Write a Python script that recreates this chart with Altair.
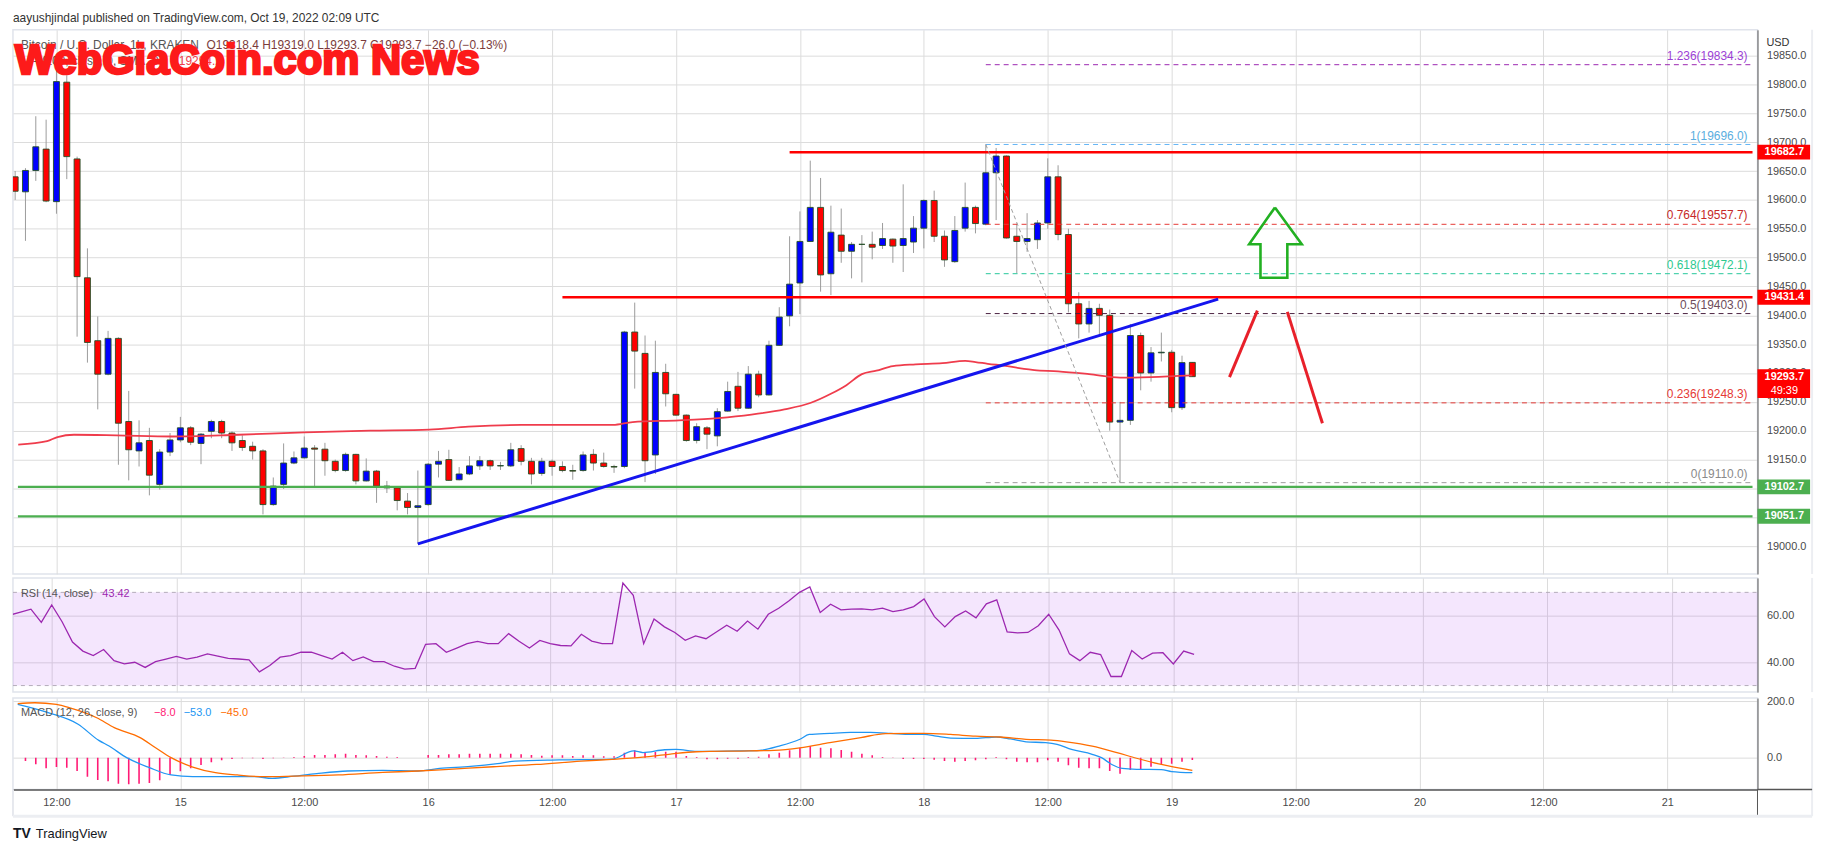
import json
import altair as alt
import pandas as pd

FONT = "Liberation Sans"
GRID = "#dcdcdc"
AXC = "#4a4a4a"

# ---------------- data (hour 0 = 14 Oct 12:00 UTC) ----------------
hours = list(range(-4, 111))
opens = [19640, 19614, 19651, 19688, 19597, 19804, 19671, 19465, 19356, 19298,
         19360, 19216, 19165, 19183, 19107, 19163, 19184, 19205, 19178, 19199,
         19216, 19196, 19183, 19173, 19165, 19072, 19107, 19144, 19153, 19170,
         19168, 19147, 19131, 19159, 19113, 19130, 19104, 19101, 19078, 19067,
         19072, 19142, 19150, 19115, 19125, 19139, 19148, 19139, 19139, 19169,
         19147, 19126, 19147, 19138, 19131, 19131, 19159, 19144, 19138, 19138,
         19371, 19334, 19158, 19301, 19263, 19227, 19183, 19205, 19191, 19234,
         19277, 19239, 19298, 19262, 19348, 19399, 19456, 19528, 19587, 19472,
         19539, 19511, 19523, 19523, 19521, 19532, 19521, 19527, 19551, 19599,
         19537, 19493, 19551, 19587, 19558, 19647, 19676, 19537, 19528, 19531,
         19560, 19640, 19540, 19420, 19385, 19412, 19400, 19215, 19218, 19365,
         19300, 19335, 19336, 19240, 19318.4]
highs = [19650, 19655, 19745, 19739, 19850, 19816, 19675, 19516, 19398, 19373,
         19362, 19269, 19218, 19205, 19168, 19196, 19224, 19208, 19196, 19219,
         19219, 19199, 19192, 19181, 19168, 19119, 19178, 19164, 19190, 19175,
         19179, 19150, 19162, 19160, 19152, 19132, 19113, 19102, 19092, 19131,
         19144, 19165, 19167, 19137, 19156, 19156, 19150, 19146, 19179, 19175,
         19153, 19153, 19150, 19147, 19141, 19164, 19168, 19162, 19141, 19373,
         19422, 19365, 19356, 19316, 19264, 19228, 19213, 19208, 19239, 19285,
         19302, 19312, 19304, 19356, 19414, 19537, 19580, 19668, 19638, 19590,
         19585, 19527, 19539, 19545, 19560, 19533, 19627, 19572, 19601, 19616,
         19547, 19572, 19630, 19590, 19696, 19690, 19677, 19559, 19577, 19565,
         19672, 19660, 19550, 19440, 19425, 19420, 19410, 19250, 19385, 19370,
         19345, 19370, 19340, 19330, 19319.0]
lows = [19600, 19529, 19633, 19596, 19576, 19636, 19363, 19318, 19237, 19296,
        19141, 19114, 19138, 19088, 19098, 19156, 19180, 19175, 19142, 19187,
        19187, 19165, 19165, 19150, 19055, 19070, 19099, 19142, 19152, 19101,
        19122, 19128, 19129, 19107, 19112, 19075, 19092, 19062, 19055, 19004,
        19070, 19119, 19113, 19114, 19123, 19132, 19132, 19132, 19137, 19140,
        19107, 19122, 19122, 19128, 19115, 19129, 19131, 19136, 19127, 19135,
        19273, 19111, 19125, 19242, 19226, 19181, 19178, 19168, 19173, 19233,
        19234, 19238, 19258, 19261, 19347, 19381, 19402, 19527, 19441, 19435,
        19491, 19464, 19457, 19497, 19515, 19491, 19475, 19508, 19516, 19527,
        19484, 19491, 19545, 19542, 19556, 19565, 19533, 19473, 19510, 19515,
        19550, 19530, 19405, 19360, 19370, 19365, 19200, 19110, 19210, 19270,
        19285, 19320, 19232, 19236, 19293.7]
closes = [19615, 19651, 19692, 19598, 19805, 19675, 19467, 19353, 19298, 19360,
          19213, 19167, 19179, 19123, 19163, 19184, 19205, 19180, 19194, 19216,
          19196, 19179, 19171, 19165, 19072, 19104, 19144, 19153, 19170, 19168,
          19148, 19131, 19159, 19113, 19130, 19104, 19101, 19079, 19067, 19070,
          19142, 19147, 19114, 19125, 19139, 19148, 19139, 19139.5, 19167, 19147,
          19125, 19147, 19138, 19131, 19130, 19158, 19144, 19138, 19137, 19371,
          19338, 19148, 19301, 19264, 19227, 19183, 19207, 19194, 19233, 19268,
          19239, 19298, 19262, 19348, 19397, 19454, 19528, 19587, 19470, 19544,
          19511, 19523, 19523, 19518, 19533, 19520, 19533, 19551, 19599, 19537,
          19496, 19547, 19587, 19559, 19647, 19676, 19534, 19528, 19533, 19560,
          19640, 19540, 19420, 19385, 19412, 19400, 19215, 19218, 19365, 19300,
          19335, 19336, 19240, 19318, 19293.7]

ma_h = [-3.7, -0.9, 0.1, 1.7, 5.8, 11.2, 17.6, 24.0, 30.4, 36.1, 39.9, 45.0, 53.9, 55.8, 60.3,
        64.1, 67.3, 70.5, 73.0, 75.0, 76.5, 78.0, 79.4, 81.0, 83.2, 85.8, 88.0, 89.0, 90.2,
        92.1, 93.7, 94.7, 97.0, 100.0, 103.0, 106.0, 110.0]
ma_v = [19176, 19182, 19189, 19193, 19192, 19190, 19193, 19197, 19200, 19202, 19207, 19210,
        19210, 19215, 19218, 19222, 19228, 19237, 19248, 19264, 19279, 19298, 19304, 19312,
        19315, 19317, 19321, 19319, 19316, 19312, 19307, 19305, 19303, 19298, 19292, 19293, 19296]

rsi = [60.3, 61.5, 62.8, 57.1, 64.6, 57.4, 48.7, 44.8, 42.9, 45.5,
       40.7, 39.3, 40.0, 37.8, 40.3, 41.4, 42.5, 41.4, 42.2, 43.6,
       42.6, 41.7, 41.4, 41.0, 35.9, 38.6, 42.2, 42.9, 44.3, 44.3,
       42.9, 41.4, 44.3, 40.7, 42.3, 40.3, 40.3, 38.3, 37.1, 37.4,
       47.7, 48.0, 44.3, 46.1, 48.0, 49.0, 48.0, 48.0, 52.3, 49.0,
       46.1, 49.4, 48.0, 47.2, 47.0, 52.0, 49.1, 48.0, 48.0, 74.0,
       68.7, 48.0, 58.6, 55.2, 52.8, 49.4, 51.3, 50.1, 53.0, 55.9,
       53.3, 57.7, 54.2, 60.6, 63.2, 66.4, 70.0, 72.3, 61.4, 64.9,
       62.5, 62.8, 62.9, 62.5, 63.2, 61.7, 62.5, 63.9, 67.2, 59.6,
       55.2, 59.6, 62.0, 59.1, 65.1, 66.8, 53.0, 52.6, 52.8, 55.7,
       60.6, 53.8, 43.6, 40.7, 44.3, 43.3, 33.9, 33.9, 45.0, 41.4,
       43.9, 44.1, 39.3, 44.8, 43.42]

hist_hours = list(range(-3, 111))
hist = [-11.8, -23.5, -37.6, -32.9, -35.3, -47.0, -67.0, -78.8, -83.5, -91.7,
        -94.1, -91.7, -89.4, -80.0, -61.2, -48.2, -37.6, -25.9, -16.5, -9.4,
        -4.7, -2.4, -2.4, -4.7, -2.4, -1.2, 2.4, 5.9, 9.4, 9.4,
        11.8, 14.1, 9.4, 8.2, 5.9, 3.5, 2.4, 0.0, 0.0, 9.4,
        9.4, 11.8, 11.8, 14.1, 14.1, 14.1, 14.1, 14.1, 11.8, 9.4,
        7.1, 8.2, 8.2, 5.9, 8.2, 8.2, 4.7, 4.7, 17.6, 25.9,
        17.6, 20.0, 21.2, 21.2, 5.9, 2.4, -5.9, -5.9, -3.5, -3.5,
        2.4, 3.5, 11.8, 17.6, 25.9, 35.3, 41.2, 35.3, 32.9, 27.0,
        21.2, 14.1, 8.2, 2.4, -1.2, -4.7, -4.7, -4.7, -7.1, -11.8,
        -14.1, -11.8, -9.4, -5.9, 2.4, -5.9, -14.1, -16.5, -16.5, -9.4,
        -14.1, -27.0, -35.3, -37.6, -37.6, -47.0, -56.4, -43.5, -40.0, -31.8,
        -23.5, -21.2, -14.1, -8.0]

macd_h = [-3.75, -0.8, 2.1, 4.1, 5.1, 6.8, 9.0, 11.1, 13.2, 19.2, 20.9, 23.0, 25.2, 28.2, 31.6,
          35.0, 37.1, 40.1, 42.7, 44.4, 48.7, 53.8, 55.9, 56.8, 58.9, 60.0, 62.0, 66.1, 68.1,
          70.0, 72.0, 72.9, 74.9, 76.9, 78.8, 80.8, 82.7, 84.0, 85.2, 86.6, 89.0, 91.0, 92.4,
          93.9, 95.8, 96.9, 98.3, 100.3, 101.2, 102.2, 103.2, 104.6, 107.0, 108.0, 110.0]
macd_v = [188, 159, 118, 61, 41, 0, -35, -61, -67, -67, -73, -65, -56, -47, -45,
          -47, -38, -31, -21, -12, -8, -5, 24, 18, 28, 29, 22, 24, 26,
          41, 65, 82, 86, 89, 89, 86, 82, 82, 76, 69, 68, 73, 66,
          56, 53, 47, 29, 12, 0, -24, -38, -41, -42, -49, -53]
signal_h = [-3.75, -2.1, 0.0, 1.3, 3.9, 5.6, 8.1, 9.6, 11.1, 13.2, 15.4, 17.5, 20.1, 23.0, 27.3,
            31.6, 35.0, 38.0, 42.3, 46.5, 50.8, 53.8, 56.8, 59.3, 62.0, 67.1, 69.5, 72.0, 74.9,
            77.9, 80.3, 84.0, 86.6, 89.0, 91.4, 93.9, 96.3, 97.8, 100.3, 102.7, 104.6, 107.0, 110.0]
signal_v = [191, 194, 188, 176, 141, 106, 71, 35, 0, -33, -53, -61, -67, -65, -61,
            -52, -47, -41, -32, -24, -12, -6, 2, 12, 21, 24, 26, 35, 53,
            71, 85, 86, 82, 76, 73, 65, 62, 56, 41, 18, -2, -24, -45]

# drawings
sr_levels = [19682.7, 19431.4, 19102.7, 19051.7]
sr_start = [71.0, 49.0, -3.73, -3.73]
sr_colors = ["#ff0000", "#ff0000", "#4caf50", "#4caf50"]
sr_widths = [2.5, 2.5, 2.2, 2.2]

fib_ratio = ["1.236", "1", "0.764", "0.618", "0.5", "0.236", "0"]
fib_price = [19834.3, 19696.0, 19557.7, 19472.1, 19403.0, 19248.3, 19110.0]
fib_line_colors = ["#9c27b0", "#64b5f6", "#e53935", "#26c79a", "#4a2040", "#e53935", "#9e9e9e"]
fib_text_colors = ["#9c3fd6", "#5aaee0", "#c62828", "#2ec98f", "#6d4c5a", "#e53935", "#8a8a8a"]
fib_start = 90.0

trend_h = [35.0, 112.5]
trend_p = [19004, 19428]
diag_h = [90.0, 103.0]
diag_p = [19696, 19110]
arrow_h = [118.0, 120.6, 119.2, 119.2, 116.6, 116.6, 115.5, 118.0]
arrow_p = [19587, 19523, 19523, 19465, 19465, 19523, 19523, 19587]
stroke_h = [113.6, 116.3, 119.2, 122.6]
stroke_p = [19293, 19408, 19406, 19213]
stroke_id = [1, 1, 2, 2]

box_price = [19682.7, 19431.4, 19102.7, 19051.7]
box_colors = ["#ff0000", "#ff0000", "#4caf50", "#4caf50"]
last_price = 19293.7

price_ticks = [19000, 19050, 19100, 19150, 19200, 19250, 19300, 19350, 19400, 19450,
               19500, 19550, 19600, 19650, 19700, 19750, 19800, 19850]
tick_hours = [0, 12, 24, 36, 48, 60, 72, 84, 96, 108, 120, 132, 144, 156]
tick_labels = ["12:00", "15", "12:00", "16", "12:00", "17", "12:00", "18", "12:00", "19",
               "12:00", "20", "12:00", "21"]

# ---------------- layout ----------------
W = 1757
H_MAIN, H_RSI, H_MACD = 548, 115, 92
H_MIN, H_MAX = -3.73, 164.25

xs = alt.Scale(domain=[H_MIN, H_MAX], nice=False, zero=False)
x_grid = alt.Axis(title=None, labels=False, ticks=False, domain=False, grid=True,
                  values=tick_hours, gridColor=GRID)
x_bottom = alt.Axis(title=None, values=tick_hours, ticks=False, grid=True, gridColor=GRID,
                    labelExpr=json.dumps(tick_labels) + "[round(datum.value/12)]",
                    domainColor="#555", domainWidth=1.5, labelPadding=7,
                    labelColor=AXC, labelFontSize=11, labelFont=FONT, labelFlush=False)


def XE(field, axis):
    return alt.X(f"{field}:Q", scale=xs, axis=axis)


one = pd.DataFrame({"a": [0]})


def txt(s, x, y, color, size=11, align="left", weight="normal", font=FONT, baseline="middle",
        stroke=None, sw=0):
    kw = dict(text=s, align=align, baseline=baseline, fontSize=size, color=color,
              fontWeight=weight, font=font)
    if stroke:
        kw["stroke"] = stroke
        kw["strokeWidth"] = sw
    return alt.Chart(one).mark_text(**kw).encode(x=alt.value(x), y=alt.value(y))


def vrule(x, y0, y1, color, w):
    return alt.Chart(one).mark_rule(color=color, strokeWidth=w).encode(
        x=alt.value(x), y=alt.value(y0), y2=alt.value(y1))


def hrule(y, x0, x1, color, w):
    return alt.Chart(one).mark_rule(color=color, strokeWidth=w).encode(
        y=alt.value(y), x=alt.value(x0), x2=alt.value(x1))


# ---------------- main price panel ----------------
ys = alt.Scale(domain=[18951.8, 19894.7], nice=False, zero=False)
y_price = alt.Axis(orient="right", title=None, values=price_ticks, format=".1f", ticks=False,
                   labelPadding=9, grid=True, gridColor=GRID, domainColor="#555",
                   labelOverlap=False, labelFlush=False, labelColor=AXC, labelFontSize=11,
                   labelFont=FONT)


def YP(field):
    return alt.Y(f"{field}:Q", scale=ys, axis=y_price)


candles = pd.DataFrame({"h": hours, "open": opens, "high": highs, "low": lows, "close": closes})
candles["dir"] = ["up" if c > o else "down" for o, c in zip(opens, closes)]

wicks = alt.Chart(candles).mark_rule(color="#9b9b9b", strokeWidth=1, clip=True).encode(
    x=XE("h", x_grid), y=YP("low"), y2="high")
bodies = alt.Chart(candles).mark_bar(size=6, stroke="#224d24", strokeWidth=0.9, clip=True).encode(
    x=XE("h", x_grid), y=YP("open"), y2="close",
    color=alt.Color("dir:N", scale=alt.Scale(domain=["up", "down"], range=["#0000ff", "#ff0000"]),
                    legend=None))

ma = alt.Chart(pd.DataFrame({"h": ma_h, "v": ma_v})).mark_line(
    color="#ef3c4c", strokeWidth=1.8, interpolate="monotone", clip=True).encode(
    x=XE("h", x_grid), y=YP("v"))

sr = alt.Chart(pd.DataFrame({"x0": sr_start, "x1": [H_MAX] * 4, "level": sr_levels,
                             "c": sr_colors, "w": sr_widths})).mark_rule().encode(
    x=XE("x0", x_grid), x2="x1", y=YP("level"),
    color=alt.Color("c:N", scale=None), strokeWidth=alt.StrokeWidth("w:Q", scale=None))

fib_df = pd.DataFrame({"x0": [fib_start] * 7, "x1": [H_MAX] * 7, "level": fib_price,
                       "c": fib_line_colors, "tc": fib_text_colors,
                       "label": [f"{r}({p:.1f})" for r, p in zip(fib_ratio, fib_price)]})
fib_lines = alt.Chart(fib_df).mark_rule(strokeDash=[5, 4], strokeWidth=1).encode(
    x=XE("x0", x_grid), x2="x1", y=YP("level"), color=alt.Color("c:N", scale=None))
fib_text = alt.Chart(fib_df).mark_text(align="right", baseline="middle", dy=-9, fontSize=12,
                                       font=FONT).encode(
    x=alt.value(W - 10), y=YP("level"), text="label:N", color=alt.Color("tc:N", scale=None))

trend = alt.Chart(pd.DataFrame({"h": trend_h, "p": trend_p})).mark_line(
    color="#1515ee", strokeWidth=3).encode(x=XE("h", x_grid), y=YP("p"))
diag = alt.Chart(pd.DataFrame({"h": diag_h, "p": diag_p})).mark_line(
    color="#9e9e9e", strokeWidth=1, strokeDash=[4, 3]).encode(x=XE("h", x_grid), y=YP("p"))
arrow = alt.Chart(pd.DataFrame({"h": arrow_h, "p": arrow_p, "i": list(range(len(arrow_h)))})).mark_line(
    color="#22b022", strokeWidth=2.6, strokeJoin="miter").encode(
    x=XE("h", x_grid), y=YP("p"), order="i:Q")
strokes = alt.Chart(pd.DataFrame({"h": stroke_h, "p": stroke_p, "g": stroke_id})).mark_line(
    color="#e8202a", strokeWidth=3).encode(x=XE("h", x_grid), y=YP("p"), detail="g:N")

boxes_df = pd.DataFrame({"level": box_price, "c": box_colors,
                         "label": [f"{p:.1f}" for p in box_price]})
boxes = alt.Chart(boxes_df).mark_rule(strokeWidth=15, strokeCap="butt").encode(
    x=alt.value(W), x2=alt.value(W + 53), y=YP("level"), color=alt.Color("c:N", scale=None))
boxes_t = alt.Chart(boxes_df).mark_text(color="white", fontWeight="bold", fontSize=11,
                                        font=FONT, align="center", baseline="middle").encode(
    x=alt.value(W + 27), y=YP("level"), text="label:N")
last_df = pd.DataFrame({"level": [last_price], "label": [f"{last_price:.1f}"], "cd": ["49:39"]})
last_box = alt.Chart(last_df).mark_rule(strokeWidth=29, strokeCap="butt", color="#ff0000",
                                        yOffset=7).encode(
    x=alt.value(W), x2=alt.value(W + 53), y=YP("level"))
last_t = alt.Chart(last_df).mark_text(color="white", fontWeight="bold", fontSize=11, font=FONT,
                                      align="center", baseline="middle").encode(
    x=alt.value(W + 27), y=YP("level"), text="label:N")
last_t2 = alt.Chart(last_df).mark_text(color="white", fontSize=11, font=FONT, align="center",
                                       baseline="middle", dy=14).encode(
    x=alt.value(W + 27), y=YP("level"), text="cd:N")

main = alt.layer(
    wicks, bodies, ma, sr, fib_lines, fib_text, trend, diag, arrow, strokes,
    boxes, boxes_t, last_box, last_t, last_t2,
    vrule(W + 55, 0, H_MAIN, "#eceef2", 2),
    txt("USD", W + 9, 13, "#333333", 11),
    txt("aayushjindal published on TradingView.com, Oct 19, 2022 02:09 UTC", 0, -12, "#333333", 12),
    txt("Bitcoin / U.S. Dollar, 1h, KRAKEN", 8, 15, "#555555", 12),
    txt("O19318.4  H19319.0  L19293.7  C19293.7  \u221226.0 (\u22120.13%)", 195, 15, "#7b3b3b", 12),
    txt("MA (100, close, 0, SMA, 0)", 8, 31, "#555555", 12),
    txt("19294.2", 167, 31, "#ef3c4c", 12),
    txt("WebGiaCoin.com News", 2, 44, "#fd1a1a", 42, weight="bold",
        font="Liberation Sans", baseline="alphabetic", stroke="#fd1a1a", sw=2.6),
).properties(width=W, height=H_MAIN)

# ---------------- RSI panel ----------------
yr = alt.Scale(domain=[27.2, 76.2], nice=False, zero=False)
y_rsi = alt.Axis(orient="right", title=None, values=[40, 60], format=".2f", ticks=False,
                 labelPadding=9, grid=True, gridColor=GRID, domainColor="#555",
                 labelColor=AXC, labelFontSize=11, labelFont=FONT, labelFlush=False)


def YR(field):
    return alt.Y(f"{field}:Q", scale=yr, axis=y_rsi)


band = alt.Chart(pd.DataFrame({"lo": [30], "hi": [70]})).mark_rect(
    color="#b050f0", opacity=0.14).encode(x=alt.value(0), x2=alt.value(W), y=YR("lo"), y2="hi")
band_lines = alt.Chart(pd.DataFrame({"lv": [30, 70]})).mark_rule(
    color="#b3abb9", strokeDash=[4, 4], strokeWidth=1).encode(
    x=alt.value(0), x2=alt.value(W), y=YR("lv"))
rsi_line = alt.Chart(pd.DataFrame({"h": hours, "v": rsi})).mark_line(
    color="#9c27b0", strokeWidth=1.3, clip=True).encode(x=XE("h", x_grid), y=YR("v"))

rsi_panel = alt.layer(
    band, band_lines, rsi_line,
    vrule(W + 55, 0, H_RSI, "#eceef2", 2),
    txt("RSI (14, close)", 8, 16, "#555555", 11),
    txt("43.42", 90, 16, "#9c27b0", 11),
).properties(width=W, height=H_RSI)

# ---------------- MACD panel ----------------
ym = alt.Scale(domain=[-112, 210.5], nice=False, zero=False)
y_macd = alt.Axis(orient="right", title=None, values=[0, 200], format=".1f", ticks=False,
                  labelPadding=9, grid=True, gridColor=GRID, domainColor="#555",
                  labelColor=AXC, labelFontSize=11, labelFont=FONT, labelFlush=False)


def YM(field):
    return alt.Y(f"{field}:Q", scale=ym, axis=y_macd)


hist_bars = alt.Chart(pd.DataFrame({"h": hist_hours, "v": hist})).mark_bar(
    size=1.6, color="#ff1a75", clip=True).encode(x=XE("h", x_bottom), y=YM("v"), y2=alt.datum(0))
macd_line = alt.Chart(pd.DataFrame({"h": macd_h, "v": macd_v})).mark_line(
    color="#2196f3", strokeWidth=1.3, interpolate="monotone", clip=True).encode(
    x=XE("h", x_bottom), y=YM("v"))
signal_line = alt.Chart(pd.DataFrame({"h": signal_h, "v": signal_v})).mark_line(
    color="#ff6d00", strokeWidth=1.3, interpolate="monotone", clip=True).encode(
    x=XE("h", x_bottom), y=YM("v"))

macd_panel = alt.layer(
    hist_bars, macd_line, signal_line,
    vrule(W + 55, 0, H_MACD + 27, "#eceef2", 2),
    vrule(W, H_MACD, H_MACD + 27, "#555555", 1),
    vrule(0, H_MACD, H_MACD + 27, "#e6e8ee", 2),
    hrule(H_MACD, W, W + 55, "#555555", 1.5),
    hrule(H_MACD + 27, 0, W + 55, "#eceef2", 3),
    txt("MACD (12, 26, close, 9)", 8, 15, "#555555", 11),
    txt("\u22128.0", 142, 15, "#ff1a75", 11),
    txt("\u221253.0", 172, 15, "#2196f3", 11),
    txt("\u221245.0", 209, 15, "#ff6d00", 11),
    txt("TV", 0, 137, "#131722", 14, weight="bold"),
    txt("TradingView", 23, 137, "#131722", 13),
).properties(width=W, height=H_MACD)

chart = alt.vconcat(main, rsi_panel, macd_panel, spacing=0).properties(
    padding={"left": 2, "top": 0, "right": 0, "bottom": 0},
    background="white",
).configure_view(stroke="#e0e3eb", strokeWidth=1.5)

chart.save("out.html", embed_options={"renderer": "svg", "actions": False})
